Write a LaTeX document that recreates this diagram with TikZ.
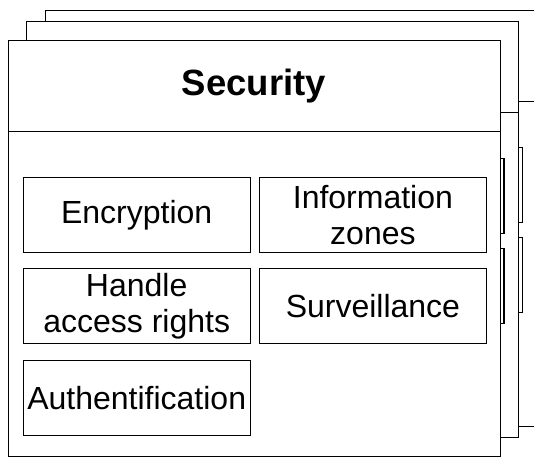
\documentclass[tikz,border=0pt]{standalone}
\usepackage{fontspec}
\setmainfont{Liberation Sans}
\usetikzlibrary{positioning}

\begin{document}
\begin{tikzpicture}[x=1pt,y=-1pt,
  frame/.style={draw,fill=white,line width=.9pt},
  item/.style={draw,fill=white,line width=1.2pt,minimum width=227pt,minimum height=75pt,
    inner sep=0pt,align=center,font=\fontsize{32}{36}\selectfont}]
\useasboundingbox (0,0) rectangle (534,457);
% the two copies stacked behind, outlines only
\foreach \dx/\dy in {37.3/-30,18.7/-19}{
  \begin{scope}[shift={(\dx,\dy)}]
    \draw[frame] (8,40.7) rectangle (500,456);
    \draw (8,131) -- (500,131);
    \foreach \x/\y in {23.3/177.3,258.3/177.3,23.3/267.3,258.3/267.3,23.3/358.7}
      \draw[line width=1.2pt,fill=white] (\x,\y) rectangle +(227,75);
  \end{scope}}
% front frame
\draw[frame] (8,40.7) rectangle (500,456);
\draw (8,131) -- (500,131);
\node[anchor=base,font=\bfseries\fontsize{36.5}{40}\selectfont] (title) at (254,96) {Security};
\node[item] (enc) at (136.7,215) {Encryption};
\node[item,right=8pt of enc] (zones) {Information\\zones};
\node[item,below=14.6pt of enc] (rights) {Handle\\access rights};
\node[item,right=8pt of rights] (surv) {Surveillance};
\node[item,below=16pt of rights] (auth) {Authentification};
\end{tikzpicture}
\end{document}
